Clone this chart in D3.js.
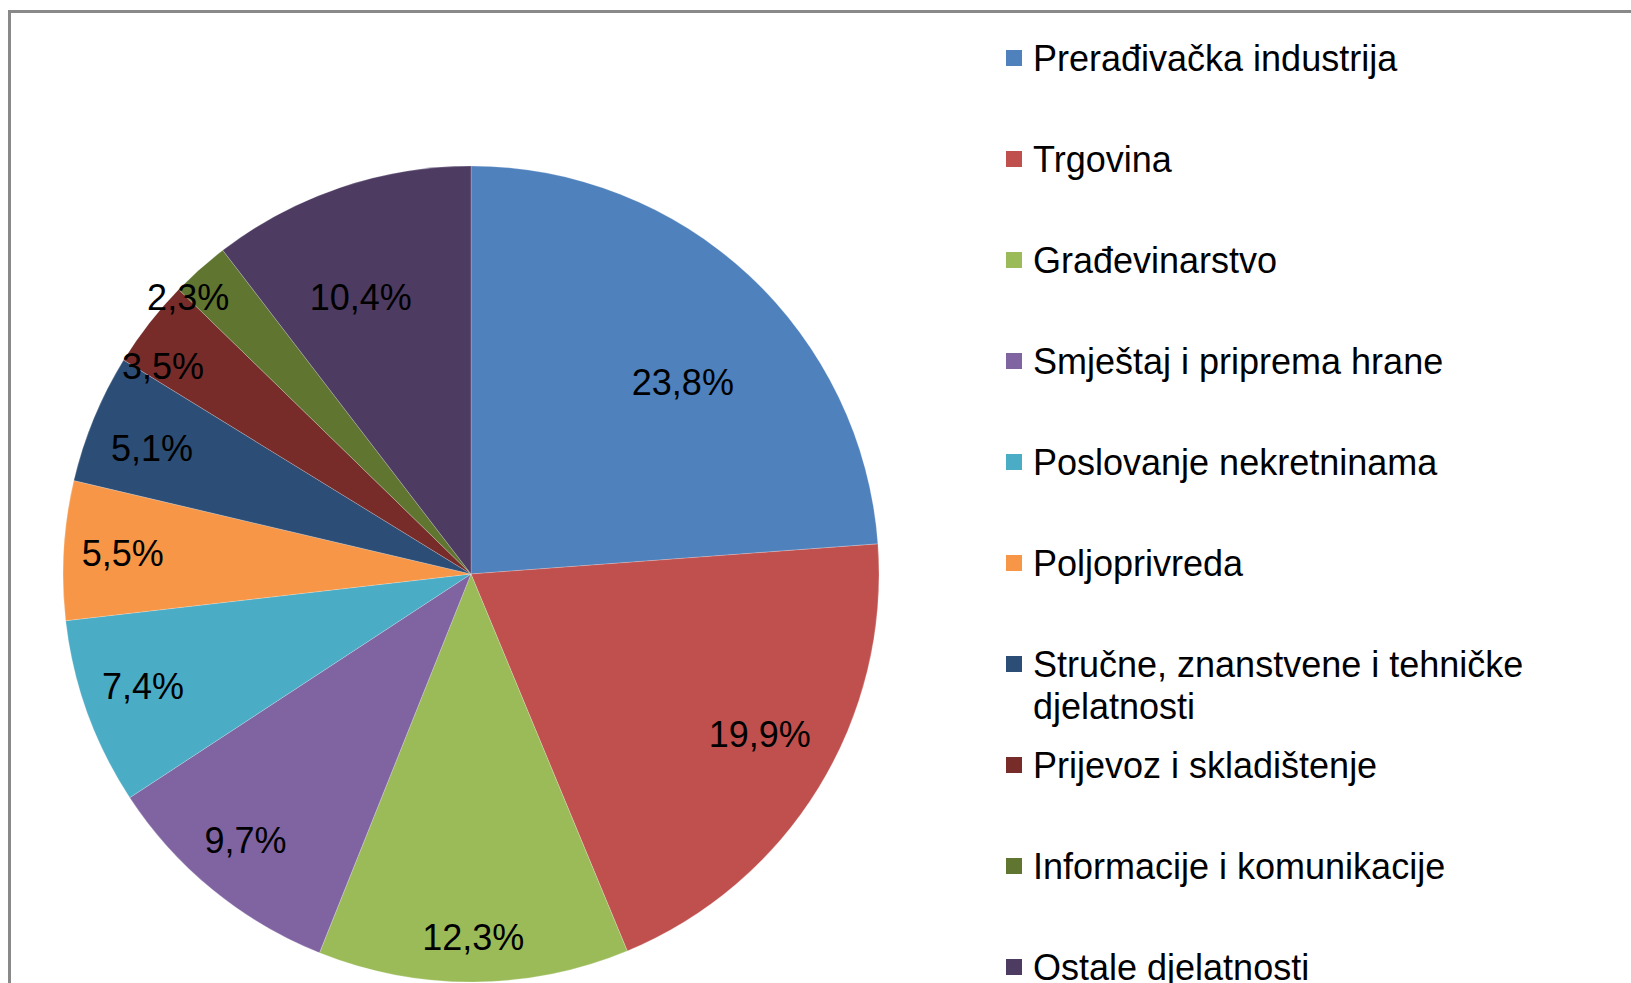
<!DOCTYPE html>
<html>
<head>
<meta charset="utf-8">
<script src="https://cdnjs.cloudflare.com/ajax/libs/d3/7.8.5/d3.min.js"></script>
<style>
  html, body { margin: 0; padding: 0; background: #fff; overflow: hidden; }
  svg text { font-family: "Liberation Sans", Arial, sans-serif; }
</style>
</head>
<body>
<svg id="chart" width="1631" height="983"></svg>
<script>
// djelatnosti (legend order = slice order, clockwise from 12 o'clock)
var categories = [
  'Prerađivačka industrija',
  'Trgovina',
  'Građevinarstvo',
  'Smještaj i priprema hrane',
  'Poslovanje nekretninama',
  'Poljoprivreda',
  'Stručne, znanstvene i tehničke djelatnosti',
  'Prijevoz i skladištenje',
  'Informacije i komunikacije',
  'Ostale djelatnosti'
];
var shares = [23.8, 19.9, 12.3, 9.7, 7.4, 5.5, 5.1, 3.5, 2.3, 10.4];
var colors = ['#4F81BD', '#C0504D', '#9BBB59', '#8064A2', '#4BACC6',
              '#F79646', '#2C4D75', '#772C2A', '#5F7530', '#4D3B62'];

var W = 1631, H = 983;
var cx = 471, cy = 574, radius = 408;
var fontSize = 36;

var svg = d3.select('#chart');

// chart area frame (runs off the right and bottom of the picture)
svg.append('rect')
  .attr('x', 9.5).attr('y', 11.5)
  .attr('width', W + 20).attr('height', H + 20)
  .attr('fill', '#fff')
  .attr('stroke', '#898989')
  .attr('stroke-width', 3);

var rows = categories.map(function(c, i) {
  return { name: c, value: shares[i], color: colors[i] };
});

var pie = d3.pie().sort(null).value(function(d) { return d.value; });
var arcs = pie(rows);
var arc = d3.arc().innerRadius(0).outerRadius(radius);

var g = svg.append('g').attr('transform', 'translate(' + cx + ',' + cy + ')');

g.selectAll('path.slice')
  .data(arcs)
  .enter().append('path')
  .attr('class', 'slice')
  .attr('d', arc)
  .attr('fill', function(d) { return d.data.color; })
  .attr('stroke', 'rgba(255,255,255,0.35)')
  .attr('stroke-width', 0.6);

// "best fit" label placement: ring (fraction of radius) + small turn in degrees
var labelRing = [0.70, 0.81, 0.89, 0.855, 0.85, 0.855, 0.84, 0.91, 0.97, 0.73];
var labelTurn = [5, -2.5, 0, 1, 1, 0, -1, -4, -4, -3];

g.selectAll('text.lbl')
  .data(arcs)
  .enter().append('text')
  .attr('class', 'lbl')
  .attr('transform', function(d) {
    var a = (d.startAngle + d.endAngle) / 2 + labelTurn[d.index] * Math.PI / 180;
    return 'translate(' + d3.pointRadial(a, radius * labelRing[d.index]) + ')';
  })
  .attr('text-anchor', 'middle')
  .attr('dy', '0.35em')
  .style('font-size', fontSize + 'px')
  .style('fill', '#000')
  .text(function(d) { return d3.format('.1f')(d.data.value).replace('.', ',') + '%'; });

// legend
var legX = 1006, legY = 58, legStep = 101, box = 16, textX = 1033, maxW = 545, lineH = 42;

var leg = svg.append('g');
rows.forEach(function(d, i) {
  var y = legY + i * legStep;
  leg.append('rect')
    .attr('x', legX).attr('y', y - box / 2)
    .attr('width', box).attr('height', box)
    .attr('fill', d.color);

  var t = leg.append('text')
    .attr('x', textX).attr('y', y)
    .attr('dy', '0.35em')
    .style('font-size', fontSize + 'px')
    .style('fill', '#000');

  // simple word wrap
  var words = d.name.split(' ');
  var line = [];
  var tspan = t.append('tspan').attr('x', textX);
  words.forEach(function(w) {
    line.push(w);
    tspan.text(line.join(' '));
    if (tspan.node().getComputedTextLength() > maxW && line.length > 1) {
      line.pop();
      tspan.text(line.join(' '));
      line = [w];
      tspan = t.append('tspan').attr('x', textX).attr('dy', lineH).text(w);
    }
  });
});
</script>
</body>
</html>
